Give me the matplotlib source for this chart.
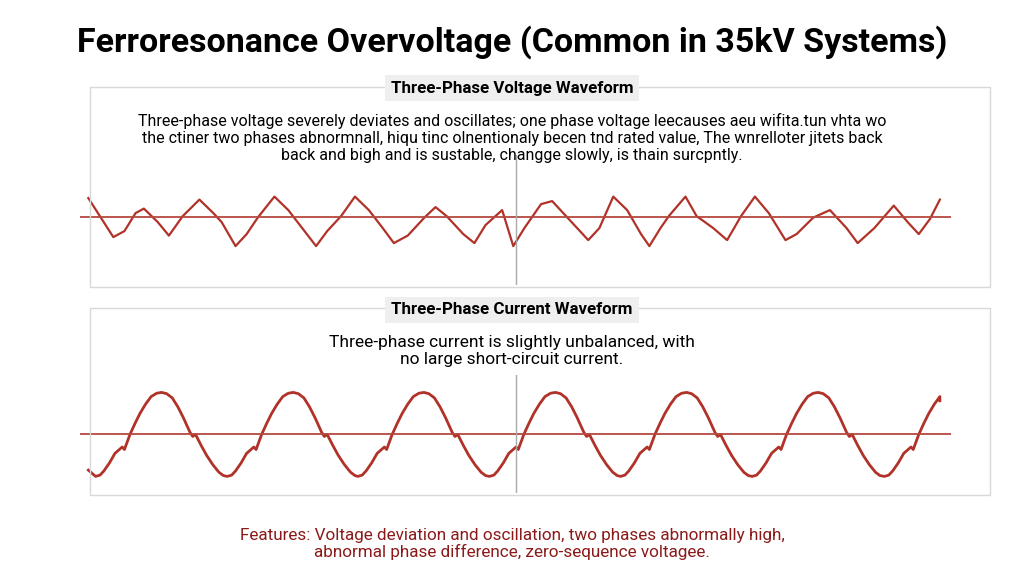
import numpy as np
import matplotlib.pyplot as plt
from matplotlib.patches import Rectangle

title = "Ferroresonance Overvoltage (Common in 35kV Systems)"
v_title = "Three-Phase Voltage Waveform"
v_text = ("Three-phase voltage severely deviates and oscillates; one phase voltage leecauses aeu wifita.tun vhta wo\n"
          "the ctiner two phases abnormnall, hiqu tinc olnentionaly becen tnd rated value, The wnrelloter jitets back\n"
          "back and bigh and is sustable, changge slowly, is thain surcpntly.")
c_title = "Three-Phase Current Waveform"
c_text = "Three-phase current is slightly unbalanced, with\nno large short-circuit current."
features = ("Features: Voltage deviation and oscillation, two phases abnormally high,\n"
            "abnormal phase difference, zero-sequence voltagee.")

# voltage trace (time in arbitrary units, value in p.u. around rated)
v_t = [15, 60, 80, 100, 115, 140, 160, 185, 215, 240, 255, 280, 300, 320, 350, 375, 400, 425,
       445, 470, 495, 520, 545, 565, 590, 620, 640, 660, 690, 710, 730, 760, 780, 800, 830, 850,
       870, 900, 915, 935, 960, 985, 1010, 1025, 1045, 1060, 1090, 1110, 1140, 1165, 1190, 1215,
       1240, 1270, 1290, 1320, 1350, 1380, 1400, 1430, 1465, 1490, 1510, 1530, 1548]
v_val = [0.63, -0.67, -0.47, 0.13, 0.28, -0.17, -0.62, 0.03, 0.58, 0.13, -0.17, -0.97, -0.57,
         -0.02, 0.68, 0.23, -0.37, -0.97, -0.47, 0.03, 0.68, 0.23, -0.37, -0.87, -0.62, -0.02,
         0.33, 0.03, -0.57, -0.87, -0.27, 0.23, -0.97, -0.37, 0.43, 0.53, 0.13, -0.47, -0.77,
         -0.37, 0.68, 0.23, -0.57, -0.97, -0.37, 0.03, 0.68, 0.03, -0.37, -0.77, 0.03, 0.68,
         0.13, -0.77, -0.57, -0.02, 0.23, -0.37, -0.87, -0.37, 0.38, -0.17, -0.57, -0.07, 0.58]

c_cycle_dt = [0, 8, 15, 25, 35, 48, 52, 62, 71, 80, 90, 100, 110, 119, 128, 138, 148, 158, 170,
              175, 180, 190, 200, 211, 222, 230]
c_cycle_val = [-1.0, -0.97, -0.87, -0.68, -0.45, -0.3, -0.36, 0.0, 0.26, 0.5, 0.72, 0.9, 0.98,
               1.0, 0.97, 0.87, 0.66, 0.4, 0.05, -0.05, 0.0, -0.26, -0.5, -0.72, -0.9, -0.98]
c_starts = [28, 265, 500, 737, 973, 1210, 1448]

RED = "#b03228"

fig = plt.figure(figsize=(10.24, 5.68), dpi=100)
W, H = 1024, 568


def ax_px(x0, y0, x1, y1, **kw):
    return fig.add_axes([x0 / W, 1 - y1 / H, (x1 - x0) / W, (y1 - y0) / H], **kw)


fig.text(512 / W, 1 - 42 / H, title, ha="center", va="center", fontsize=24.5, fontweight="bold",
         family="Roboto")

# panels
for (y0, y1) in [(87, 287), (308, 495)]:
    fig.add_artist(Rectangle((90 / W, 1 - y1 / H), 900 / W, (y1 - y0) / H,
                             transform=fig.transFigure, fill=False, ec="#d8d8d8", lw=1))
for (yc, txt) in [(88, v_title), (310, c_title)]:
    fig.text(512 / W, 1 - yc / H, txt, ha="center", va="center", fontsize=12.2, fontweight="bold",
             family="Roboto", bbox=dict(boxstyle="square,pad=0.35", fc="#efefef", ec="none"))
fig.text(512 / W, 1 - 138 / H, v_text, ha="center", va="center", fontsize=11.5, linespacing=1.15,
         family="Roboto")
fig.text(512 / W, 1 - 351 / H, c_text, ha="center", va="center", fontsize=12.5, linespacing=1.15,
         family="Roboto")
fig.text(512 / W, 1 - 544 / H, features, ha="center", va="center", fontsize=12.3, color="#8b1a1a",
         linespacing=1.15, family="Roboto")

# voltage axes
ax1 = ax_px(80, 155, 951, 285)
ax1.plot(v_t, v_val, color=RED, lw=1.6)
ax1.axhline(0, color="#b5493f", lw=1.3)
ax1.axvline(785, color="#aaaaaa", lw=1)
ax1.set_xlim(0, 1568)
ax1.set_ylim(-(285 - 217) / 30, (217 - 155) / 30)
ax1.axis("off")

# current axes
ct, cv = [], []
for s in c_starts:
    for dt, val in zip(c_cycle_dt, c_cycle_val):
        if s + dt <= 1550:
            ct.append(s + dt)
            cv.append(val)
ax2 = ax_px(80, 375, 951, 493)
ax2.plot([15] + ct + [1548], [-0.85] + cv + [0.8], color=RED, lw=2)
ax2.axhline(0, color="#b5493f", lw=1.3)
ax2.axvline(785, color="#aaaaaa", lw=1)
ax2.set_xlim(0, 1568)
ax2.set_ylim(-(493 - 433) / 43, (433 - 375) / 41)
ax2.axis("off")

fig.savefig("out.png", dpi=100)
